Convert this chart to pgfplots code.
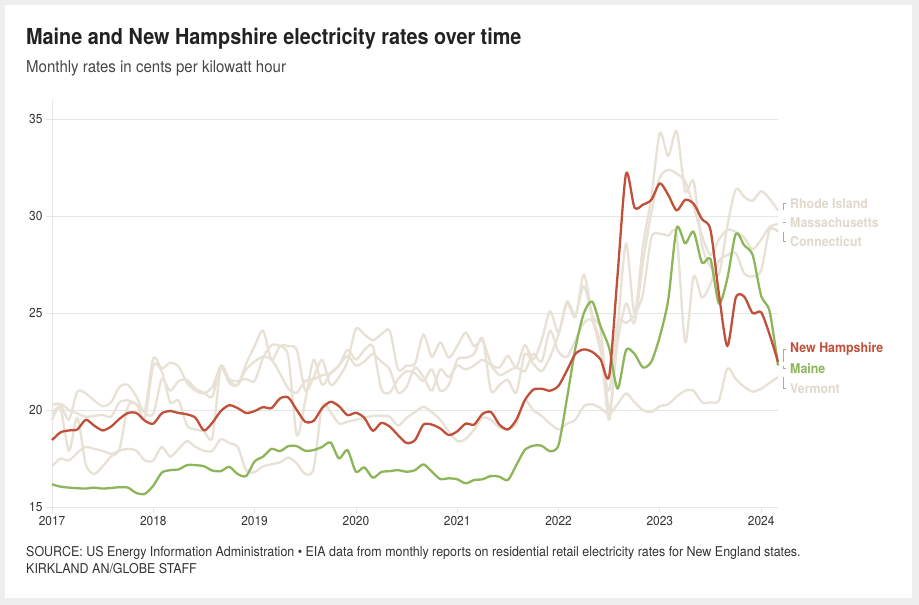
\documentclass[border=0pt]{standalone}
\usepackage{fontspec}
\setmainfont{TeX Gyre Heros}[FakeStretch=0.92]
\newfontfamily\titlefont{TeX Gyre Heros}[FakeStretch=0.9]
\usepackage{pgfplots}
\usepackage{pgfplotstable}
\pgfplotsset{compat=1.18}
\definecolor{nhred}{HTML}{C0503A}
\definecolor{megreen}{HTML}{8DB55A}
\definecolor{stategray}{HTML}{E8E1D6}
\definecolor{labgray}{HTML}{E0D9CC}
\definecolor{gridgray}{HTML}{E6E6E6}
\definecolor{brk}{HTML}{AAAAAA}
\definecolor{txt}{HTML}{333333}
\definecolor{ttl}{HTML}{222222}
\definecolor{bg}{HTML}{EEEEEE}

\pgfplotstableread{
m NH ME RI MA CT VT
0 18.45 16.17 19.8 20.26 19.5 17.1
1 18.85 16.05 20.1 20.3 20.3 17.5
2 18.95 16.0 17.9 19.5 20.0 17.4
3 19.0 15.97 19.6 20.95 19.83 17.8
4 19.5 15.95 17.2 20.86 19.66 18.1
5 19.2 16.0 16.7 20.5 19.7 18.0
6 18.95 15.95 17.1 20.2 19.75 17.9
7 19.15 15.98 17.6 20.4 19.66 17.75
8 19.55 16.02 18.0 21.2 20.4 17.9
9 19.85 16.0 20.2 21.3 20.5 18.0
10 19.85 15.72 20.3 20.7 20.3 17.9
11 19.45 15.68 19.6 20.0 19.85 17.4
12 19.3 16.1 22.3 22.67 19.8 17.4
13 19.83 16.77 22.0 22.15 21.6 18.1
14 19.95 16.9 20.4 22.44 21.0 17.6
15 19.85 16.94 20.5 22.24 21.5 18.0
16 19.78 17.16 19.2 21.4 21.55 18.4
17 19.6 17.16 19.0 21.0 21.1 18.1
18 18.95 17.1 18.9 20.86 20.9 17.9
19 19.35 16.88 18.6 21.2 20.7 17.9
20 19.95 16.85 22.2 22.23 22.3 18.5
21 20.25 17.07 21.5 21.4 21.6 18.3
22 20.1 16.7 21.3 21.3 21.5 18.1
23 19.85 16.6 22.1 22.4 21.6 16.9
24 19.95 17.35 22.5 23.3 21.5 16.8
25 20.15 17.6 22.75 24.1 22.7 17.1
26 20.1 18.0 22.6 22.6 23.35 17.2
27 20.6 17.88 21.9 23.3 23.3 17.3
28 20.65 18.14 21.1 23.3 22.75 17.55
29 20.0 18.14 20.9 23.1 18.7 17.25
30 19.4 17.9 21.5 21.0 20.5 16.7
31 19.45 17.94 21.6 21.7 22.6 17.0
32 20.1 18.1 21.8 22.6 21.3 20.2
33 20.43 18.33 21.9 21.3 21.9 19.9
34 20.2 17.5 22.3 21.7 22.3 19.3
35 19.74 17.94 23.1 22.5 22.8 19.4
36 19.86 16.82 22.6 24.2 22.3 19.5
37 19.6 17.05 23.1 23.9 22.5 19.6
38 18.93 16.51 23.3 23.6 22.9 19.7
39 19.34 16.8 21.1 23.9 22.5 19.7
40 19.15 16.85 20.9 24.1 22.1 19.66
41 18.7 16.9 21.6 22.1 20.9 19.2
42 18.3 16.82 22.0 22.3 21.2 19.6
43 18.45 16.9 21.9 22.4 22.2 19.9
44 19.25 17.2 21.5 23.9 21.7 20.17
45 19.25 16.82 22.1 22.75 21.0 19.9
46 19.05 16.44 21.0 23.5 22.1 19.5
47 18.71 16.48 21.3 22.7 21.7 18.9
48 18.9 16.43 22.6 23.3 22.3 18.4
49 19.3 16.22 22.7 24.0 22.1 18.5
50 19.25 16.39 22.9 23.3 22.3 19.0
51 19.8 16.43 23.7 23.6 22.6 19.6
52 19.9 16.6 21.0 22.4 22.3 19.5
53 19.25 16.56 21.3 22.2 21.8 19.1
54 19.0 16.39 21.55 22.8 22.0 19.0
55 19.5 17.16 20.9 22.2 22.2 19.3
56 20.5 17.94 22.9 23.35 22.0 20.5
57 21.05 18.16 22.4 22.6 22.9 20.0
58 21.1 18.16 22.0 23.6 22.5 19.7
59 21.0 17.88 22.75 25.1 24.1 19.3
60 21.25 18.2 23.9 24.0 23.0 19.0
61 22.05 20.6 25.6 25.5 22.75 19.3
62 22.9 23.2 24.9 24.8 23.6 19.5
63 23.13 25.0 26.4 27.0 24.5 20.2
64 23.0 25.6 24.8 24.9 24.6 20.3
65 22.6 24.3 23.3 24.1 23.0 20.1
66 21.75 23.2 19.5 20.0 21.0 19.8
67 27.0 21.1 24.2 23.5 24.5 20.3
68 32.2 23.1 28.6 25.5 24.5 20.86
69 30.45 22.9 25.0 24.5 24.9 20.4
70 30.6 22.2 28.5 27.6 26.0 20.0
71 30.85 22.5 31.0 30.2 28.9 19.9
72 31.7 23.8 34.3 32.0 29.1 20.2
73 31.1 25.7 33.1 32.4 29.0 20.3
74 30.3 29.4 34.4 32.2 29.0 20.7
75 30.85 28.6 31.3 31.8 23.5 21.0
76 30.65 29.2 31.8 30.5 26.9 21.0
77 29.85 27.6 28.5 29.0 25.8 20.4
78 29.3 27.8 27.4 28.0 26.5 20.4
79 26.0 25.5 27.0 28.8 27.7 20.5
80 23.3 26.8 29.5 29.3 28.0 22.15
81 25.8 29.1 31.4 29.2 28.1 21.6
82 25.85 28.5 31.0 28.9 27.05 21.2
83 25.0 28.0 30.8 28.3 26.9 20.95
84 25.05 25.9 31.3 28.8 27.2 21.1
85 23.9 25.1 30.9 29.45 29.3 21.4
86 22.5 22.3 30.3 29.6 29.2 21.7
}\rates

\begin{document}
\begin{tikzpicture}[x=1bp,y=1bp]
\useasboundingbox (0,0) rectangle (919,605);
\fill[bg] (0,0) rectangle (919,605);
\fill[white] (5,7) rectangle (912,600);
\begin{axis}[
  at={(52bp,98bp)}, anchor=south west,
  scale only axis, width=726bp, height=407bp,
  xmin=2017, xmax=2024.1667, ymin=15, ymax=36,
  axis lines=left,
  axis line style={-, draw=gridgray, line width=0.8bp},
  xtick={2017,2018,2019,2020,2021,2022,2023,2024},
  xticklabels={2017,2018,2019,2020,2021,2022,2023,2024},
  ytick={15,20,25,30,35},
  ymajorgrids,
  grid style={draw=gridgray, line width=0.8bp},
  tick align=outside, major tick length=6bp,
  tick style={draw=gridgray, line width=0.8bp},
  ticklabel style={font=\fontsize{13}{15}\selectfont, text=txt},
  /pgf/number format/assume math mode=true,
  clip=false,
  every axis plot/.append style={line width=2.3bp, smooth, tension=0.45, line join=round},
]
\addplot[stategray] table[x expr=2017+\thisrow{m}/12, y=VT] {\rates};
\addplot[stategray] table[x expr=2017+\thisrow{m}/12, y=CT] {\rates};
\addplot[stategray] table[x expr=2017+\thisrow{m}/12, y=MA] {\rates};
\addplot[stategray] table[x expr=2017+\thisrow{m}/12, y=RI] {\rates};
\addplot[megreen] table[x expr=2017+\thisrow{m}/12, y=ME] {\rates};
\addplot[nhred] table[x expr=2017+\thisrow{m}/12, y=NH] {\rates};

\tikzset{lab/.style={anchor=west, inner sep=0pt, font=\bfseries\fontsize{13.5}{15}\selectfont}}
\node[lab, text=labgray] at (axis cs:2024.285,30.67) {Rhode Island};
\node[lab, text=labgray] at (axis cs:2024.285,29.69) {Massachusetts};
\node[lab, text=labgray] at (axis cs:2024.285,28.71) {Connecticut};
\node[lab, text=nhred] at (axis cs:2024.285,23.14) {New Hampshire};
\node[lab, text=megreen] at (axis cs:2024.285,22.16) {Maine};
\node[lab, text=labgray] at (axis cs:2024.285,21.13) {Vermont};

\tikzset{br/.style={draw=brk, line width=0.7bp}}
\draw[br] (axis cs:2024.219,30.3) -- (axis cs:2024.219,30.67) -- (axis cs:2024.246,30.67);
\draw[br] (axis cs:2024.219,29.69) -- (axis cs:2024.246,29.69);
\draw[br] (axis cs:2024.219,29.2) -- (axis cs:2024.219,28.71) -- (axis cs:2024.246,28.71);
\draw[br] (axis cs:2024.219,22.5) -- (axis cs:2024.219,23.14) -- (axis cs:2024.246,23.14);
\draw[br] (axis cs:2024.219,22.3) -- (axis cs:2024.219,22.16) -- (axis cs:2024.246,22.16);
\draw[br] (axis cs:2024.219,21.7) -- (axis cs:2024.219,21.13) -- (axis cs:2024.246,21.13);
\end{axis}

\node[anchor=base west, inner sep=0pt, text=ttl, font=\titlefont\bfseries\fontsize{22.1}{25}\selectfont] at (26,560) {Maine and New Hampshire electricity rates over time};
\node[anchor=base west, inner sep=0pt, text=txt!90, font=\fontsize{16.4}{19}\selectfont] at (26,532) {Monthly rates in cents per kilowatt hour};
\node[anchor=base west, inner sep=0pt, text=txt, font=\fontsize{13.6}{16}\selectfont] at (26,48) {SOURCE: US Energy Information Administration \textbullet{} EIA data from monthly reports on residential retail electricity rates for New England states.};
\node[anchor=base west, inner sep=0pt, text=txt, font=\fontsize{13.6}{16}\selectfont] at (26,31) {KIRKLAND AN/GLOBE STAFF};
\end{tikzpicture}
\end{document}
